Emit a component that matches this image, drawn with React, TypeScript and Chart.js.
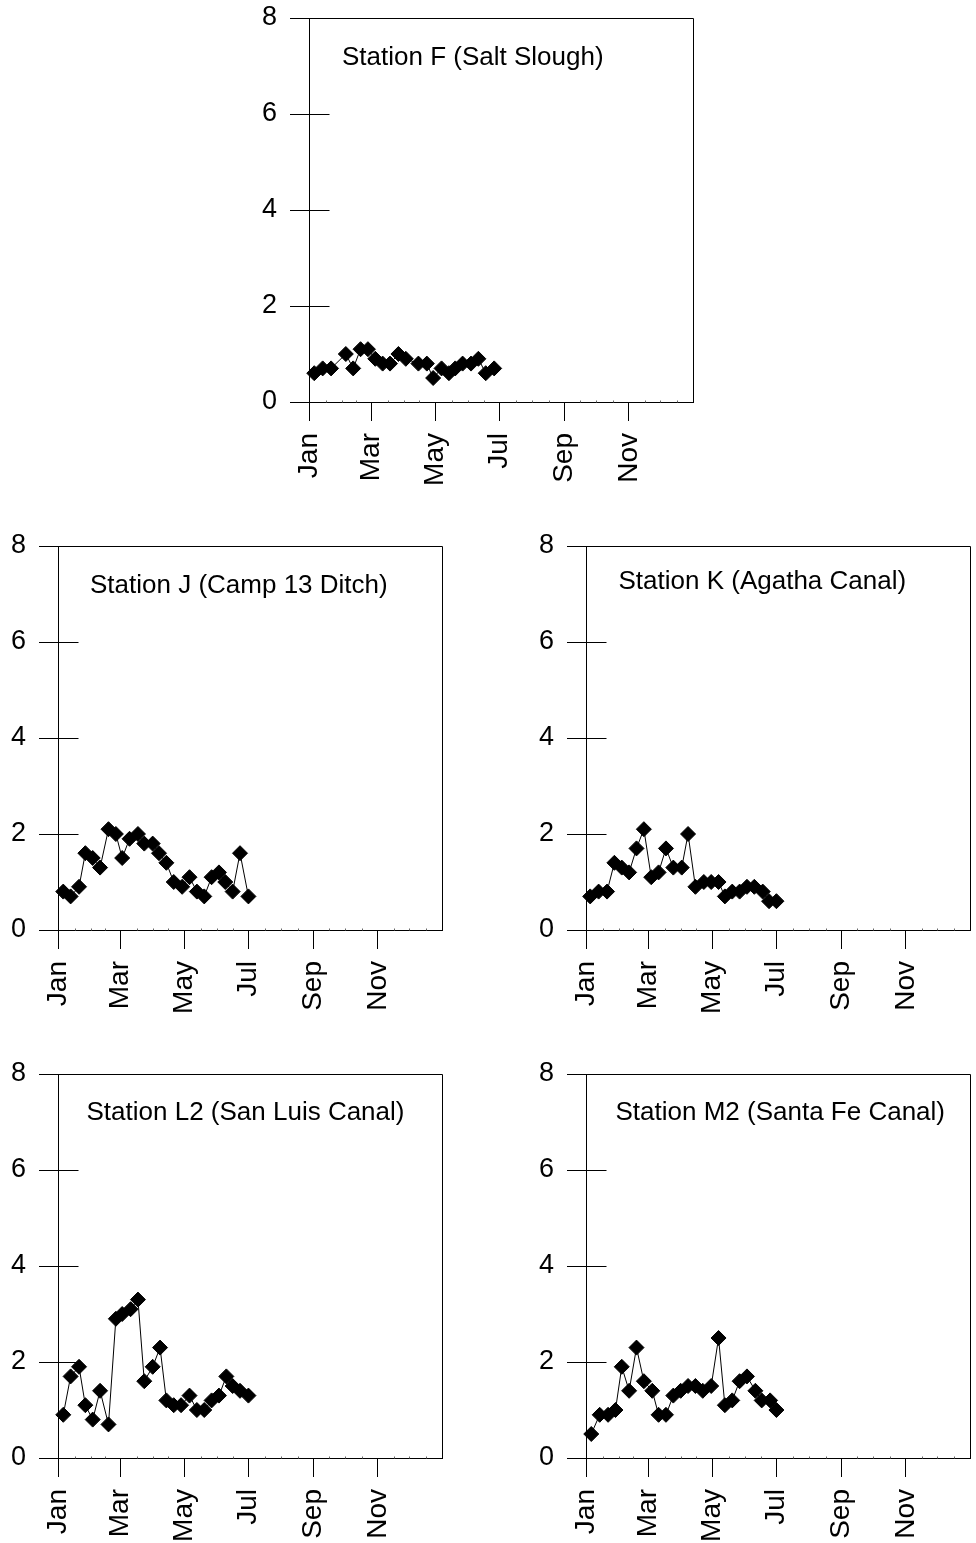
import React, { useEffect, useRef } from 'react';
import { Chart, registerables } from 'chart.js';

Chart.register(...registerables);

// ---------- data ----------
const MONTH_TICK_DAYS = [0, 59, 120, 181, 243, 304];
const MONTH_TICK_LABELS = ['Jan', 'Mar', 'May', 'Jul', 'Sep', 'Nov'];
const MONTH_START_DAYS = [0, 31, 59, 90, 120, 151, 181, 212, 243, 273, 304, 334, 365];
const Y_TICKS = [0, 2, 4, 6, 8];

const F_TITLE = 'Station F (Salt Slough)';
const F_DAYS = [5, 13, 21, 35, 42, 49, 56, 63, 70, 77, 85, 92, 104, 112, 118, 126, 133, 139, 146, 154, 161, 168, 176];
const F_VALUES = [0.6, 0.7, 0.7, 1.0, 0.7, 1.1, 1.1, 0.9, 0.8, 0.8, 1.0, 0.9, 0.8, 0.8, 0.5, 0.7, 0.6, 0.7, 0.8, 0.8, 0.9, 0.6, 0.7];

const J_TITLE = 'Station J (Camp 13 Ditch)';
const J_DAYS = [5, 12, 20, 26, 33, 40, 48, 55, 61, 68, 76, 82, 90, 96, 103, 110, 118, 125, 132, 139, 146, 153, 159, 166, 173, 181];
const J_VALUES = [0.8, 0.7, 0.9, 1.6, 1.5, 1.3, 2.1, 2.0, 1.5, 1.9, 2.0, 1.8, 1.8, 1.6, 1.4, 1.0, 0.9, 1.1, 0.8, 0.7, 1.1, 1.2, 1.0, 0.8, 1.6, 0.7];

const K_TITLE = 'Station K (Agatha Canal)';
const K_DAYS = [4, 12, 20, 27, 34, 41, 48, 55, 62, 69, 76, 83, 91, 97, 104, 112, 119, 126, 132, 139, 146, 153, 160, 168, 174, 181];
const K_VALUES = [0.7, 0.8, 0.8, 1.4, 1.3, 1.2, 1.7, 2.1, 1.1, 1.2, 1.7, 1.3, 1.3, 2.0, 0.9, 1.0, 1.0, 1.0, 0.7, 0.8, 0.8, 0.9, 0.9, 0.8, 0.6, 0.6];

const L2_TITLE = 'Station L2 (San Luis Canal)';
const L2_DAYS = [5, 12, 20, 26, 33, 40, 48, 55, 61, 69, 76, 82, 90, 97, 103, 110, 117, 125, 132, 139, 146, 153, 160, 166, 173, 181];
const L2_VALUES = [0.9, 1.7, 1.9, 1.1, 0.8, 1.4, 0.7, 2.9, 3.0, 3.1, 3.3, 1.6, 1.9, 2.3, 1.2, 1.1, 1.1, 1.3, 1.0, 1.0, 1.2, 1.3, 1.7, 1.5, 1.4, 1.3];

const M2_TITLE = 'Station M2 (Santa Fe Canal)';
const M2_DAYS = [5, 13, 21, 28, 34, 41, 48, 55, 63, 69, 76, 83, 90, 97, 104, 111, 119, 126, 132, 139, 146, 153, 161, 167, 175, 181];
const M2_VALUES = [0.5, 0.9, 0.9, 1.0, 1.9, 1.4, 2.3, 1.6, 1.4, 0.9, 0.9, 1.3, 1.4, 1.5, 1.5, 1.4, 1.5, 2.5, 1.1, 1.2, 1.6, 1.7, 1.4, 1.2, 1.2, 1.0];

// ---------- layout ----------
const FONT_FAMILY = '"Liberation Sans", Arial, Helvetica, sans-serif';
const Y_AXIS_W = 58;
const PAD_TOP = 18;
const PLOT = 384;
const X_AXIS_H = 90;
const PAD_RIGHT = 14;

type Panel = {
  title: string;
  days: number[];
  values: number[];
  left: number; // chart area left (page px)
  top: number; // chart area top (page px)
  titleDx: number;
  titleDy: number;
};

const PANELS: Panel[] = [
  { title: F_TITLE, days: F_DAYS, values: F_VALUES, left: 309, top: 18, titleDx: 33, titleDy: 47 },
  { title: J_TITLE, days: J_DAYS, values: J_VALUES, left: 58, top: 546, titleDx: 32, titleDy: 46.5 },
  { title: K_TITLE, days: K_DAYS, values: K_VALUES, left: 586, top: 546, titleDx: 32.5, titleDy: 42.5 },
  { title: L2_TITLE, days: L2_DAYS, values: L2_VALUES, left: 58, top: 1074, titleDx: 28.5, titleDy: 46 },
  { title: M2_TITLE, days: M2_DAYS, values: M2_VALUES, left: 586, top: 1074, titleDx: 29.5, titleDy: 46 },
];

function minorDays(): number[] {
  const out: number[] = [];
  for (let i = 0; i < MONTH_START_DAYS.length - 1; i++) {
    const a = MONTH_START_DAYS[i];
    const b = MONTH_START_DAYS[i + 1];
    out.push(a, Math.round((a + b) / 2));
  }
  return out.filter((d) => d > 0 && MONTH_TICK_DAYS.indexOf(d) < 0);
}

function PanelChart({ panel }: { panel: Panel }) {
  const ref = useRef<HTMLCanvasElement | null>(null);

  useEffect(() => {
    if (!ref.current) return;
    const decor = {
      id: 'decor',
      afterDraw(chart: any) {
        const { ctx, chartArea } = chart;
        const xs = chart.scales.x;
        const ys = chart.scales.y;
        const L = Math.round(chartArea.left) + 0.5;
        const R = Math.round(chartArea.right) + 0.5;
        const T = Math.round(chartArea.top) + 0.5;
        const B = Math.round(chartArea.bottom) + 0.5;
        ctx.save();
        ctx.strokeStyle = '#000';
        ctx.lineWidth = 1;
        ctx.beginPath();
        ctx.moveTo(L, T);
        ctx.lineTo(R, T);
        ctx.lineTo(R, B);
        ctx.stroke();
        // inner part of y ticks
        ctx.beginPath();
        Y_TICKS.forEach((v) => {
          if (v === 0) return;
          const y = Math.round(ys.getPixelForValue(v)) + 0.5;
          ctx.moveTo(L, y);
          ctx.lineTo(L + 20, y);
        });
        ctx.stroke();
        // minor x ticks
        ctx.strokeStyle = '#666';
        ctx.beginPath();
        minorDays().forEach((d) => {
          const x = Math.round(xs.getPixelForValue(d)) + 0.5;
          ctx.moveTo(x, B);
          ctx.lineTo(x, B - 2);
        });
        ctx.stroke();
        // title
        ctx.fillStyle = '#000';
        ctx.font = `26px ${FONT_FAMILY}`;
        ctx.textAlign = 'left';
        ctx.textBaseline = 'alphabetic';
        ctx.fillText(panel.title, chartArea.left + panel.titleDx, chartArea.top + panel.titleDy);
        ctx.restore();
      },
    };

    const chart = new Chart(ref.current, {
      type: 'line',
      data: {
        datasets: [
          {
            data: panel.days.map((d, i) => ({ x: d, y: panel.values[i] })),
            borderColor: '#000',
            borderWidth: 1,
            backgroundColor: '#000',
            pointStyle: 'rectRot',
            pointRadius: 7.5,
            pointBorderWidth: 1,
            pointBackgroundColor: '#000',
            pointBorderColor: '#000',
            tension: 0,
            fill: false,
            clip: false as any,
          },
        ],
      },
      options: {
        responsive: false,
        animation: false,
        devicePixelRatio: 1,
        layout: { padding: { top: PAD_TOP, right: PAD_RIGHT, left: 0, bottom: 0 } },
        plugins: {
          legend: { display: false },
          tooltip: { enabled: false },
          title: { display: false },
        },
        scales: {
          x: {
            type: 'linear',
            min: 0,
            max: 365,
            afterBuildTicks: (s: any) => {
              s.ticks = MONTH_TICK_DAYS.map((v) => ({ value: v }));
            },
            afterFit: (s: any) => {
              s.height = X_AXIS_H;
              s.paddingLeft = 0;
              s.paddingRight = 0;
            },
            ticks: {
              autoSkip: false,
              maxRotation: 90,
              minRotation: 90,
              padding: 12,
              color: '#000',
              font: { family: FONT_FAMILY, size: 28 },
              callback: (v: any) => {
                const i = MONTH_TICK_DAYS.indexOf(Number(v));
                return i >= 0 ? MONTH_TICK_LABELS[i] : '';
              },
            },
            grid: { drawOnChartArea: false, drawTicks: true, tickLength: 19, color: '#000', lineWidth: 1 },
            border: { display: true, color: '#000', width: 1 },
          },
          y: {
            type: 'linear',
            min: 0,
            max: 8,
            afterBuildTicks: (s: any) => {
              s.ticks = Y_TICKS.map((v) => ({ value: v }));
            },
            afterFit: (s: any) => {
              s.width = Y_AXIS_W;
              s.paddingTop = 0;
              s.paddingBottom = 0;
            },
            ticks: {
              padding: 13,
              color: '#000',
              font: { family: FONT_FAMILY, size: 27 },
              callback: (v: any) => String(v),
            },
            grid: { drawOnChartArea: false, drawTicks: true, tickLength: 19, color: '#000', lineWidth: 1 },
            border: { display: true, color: '#000', width: 1 },
          },
        },
      } as any,
      plugins: [decor],
    });
    return () => chart.destroy();
  }, [panel]);

  const w = Y_AXIS_W + PLOT + PAD_RIGHT;
  const h = PAD_TOP + PLOT + X_AXIS_H;
  return (
    <canvas
      ref={ref}
      width={w}
      height={h}
      style={{
        position: 'absolute',
        left: panel.left - Y_AXIS_W,
        top: panel.top - PAD_TOP,
        width: w,
        height: h,
      }}
    />
  );
}

export default function App() {
  return (
    <div
      style={{
        position: 'absolute',
        left: 0,
        top: 0,
        width: 976,
        height: 1543,
        overflow: 'hidden',
        background: '#fff',
      }}
    >
      {PANELS.map((p) => (
        <PanelChart key={p.title} panel={p} />
      ))}
    </div>
  );
}
